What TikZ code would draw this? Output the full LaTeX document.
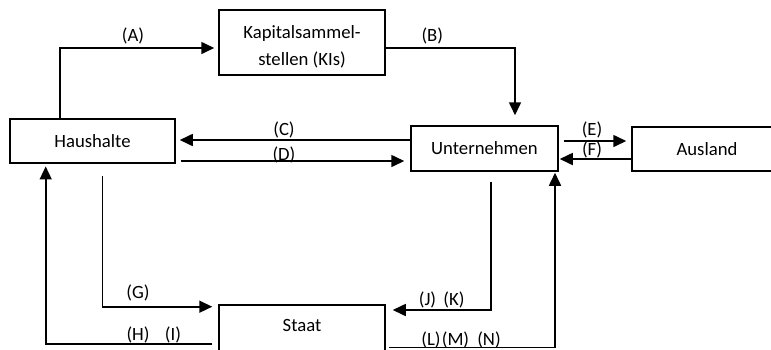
\documentclass[tikz,border=0pt]{standalone}
\usepackage{fontspec}
\setmainfont{Carlito}
\usetikzlibrary{arrows.meta}
\begin{document}
\begin{tikzpicture}[x=1pt,y=-1pt,
  box/.style={draw,line width=1.5pt,inner sep=0pt,align=center,
    font=\fontsize{18.7}{27}\selectfont},
  flow/.style={draw,line width=1.6pt,-{Triangle[length=13pt,width=12pt]}},
  lab/.style={inner sep=0pt,font=\fontsize{18.7}{22}\selectfont}]
\useasboundingbox (0,0) rectangle (771,349);
\clip (0,0) rectangle (771,349);
% boxes
\node[box,minimum width=165pt,minimum height=44pt] (Haus) at (92.5,141) {Haushalte};
\node[box,minimum width=166pt,minimum height=65pt] (Kap) at (302,42.5)
  {\raisebox{4.5pt}[30pt][30pt]{\begin{tabular}[t]{@{}c@{}}Kapitalsammel-\\stellen (KIs)\end{tabular}}};
\node[box,minimum width=147pt,minimum height=45pt] (Unt) at (484.5,148.5) {Unternehmen};
\node[box,minimum width=150pt,minimum height=44pt] (Aus) at (707,149) {Ausland};
\node[box,minimum width=166pt,minimum height=50pt] (Staat) at (302,330) {\raisebox{-1.5pt}[10pt][10pt]{Staat}};
% helper x positions
\coordinate (aX) at (60,0);
\coordinate (bX) at (515,0);
\coordinate (gX) at (102.3,0);
\coordinate (hX) at (45.7,0);
\coordinate (jX) at (491,0);
\coordinate (nX) at (555,0);
% connectors
\draw[flow,shorten >=4pt] (Haus.north -| aX) |- ([yshift=-5.5pt]Kap.west);
\draw[flow,shorten >=10pt] ([yshift=-5.5pt]Kap.east) -| (Unt.north -| bX);
\coordinate (c1) at ([yshift=8.5pt]Unt.west);
\draw[flow,shorten >=4pt] (c1) -- (Haus.east |- c1);
\coordinate (d1) at ([yshift=-12.5pt]Unt.west);
\draw[flow,shorten <=5pt,shorten >=6pt] (Haus.east |- d1) -- (d1);
\coordinate (e1) at ([yshift=8pt]Aus.west);
\draw[flow,shorten <=5pt,shorten >=5pt] (Unt.east |- e1) -- (e1);
\coordinate (f1) at ([yshift=-10pt]Aus.west);
\draw[flow,shorten >=1pt] (f1) -- (Unt.east |- f1);
\draw[flow,shorten <=12pt,shorten >=6pt] (Haus.south -| gX) |- ([yshift=23.3pt]Staat.west);
\draw[flow,shorten <=6pt,shorten >=2.7pt] ([yshift=-13.7pt]Staat.west) -| (Haus.south -| hX);
\draw[flow,shorten <=10pt,shorten >=7pt] (Unt.south -| jX) |- ([yshift=20pt]Staat.east);
\draw[flow,shorten <=3pt,shorten >=1pt] ([yshift=-17.3pt]Staat.east) -| (Unt.south -| nX);
% labels
\node[lab] (lA) at (133,35.5) {(A)};
\node[lab] (lB) at (432.3,35.5) {(B)};
\node[lab] (lC) at (284,130) {(C)};
\node[lab] (lD) at (284,155) {(D)};
\node[lab] (lE) at (592,129.5) {(E)};
\node[lab] (lF) at (592,149.5) {(F)};
\node[lab] (lG) at (138,292.5) {(G)};
\node[lab] (lH) at (138,334.5) {(H)};
\node[lab] (lI) at (173,334.5) {(I)};
\node[lab] (lJ) at (427.5,299.5) {(J)};
\node[lab] (lK) at (454,299.5) {(K)};
\node[lab] (lL) at (431,340) {(L)};
\node[lab] (lM) at (455.5,340) {(M)};
\node[lab] (lN) at (489,340) {(N)};
\end{tikzpicture}
\end{document}
